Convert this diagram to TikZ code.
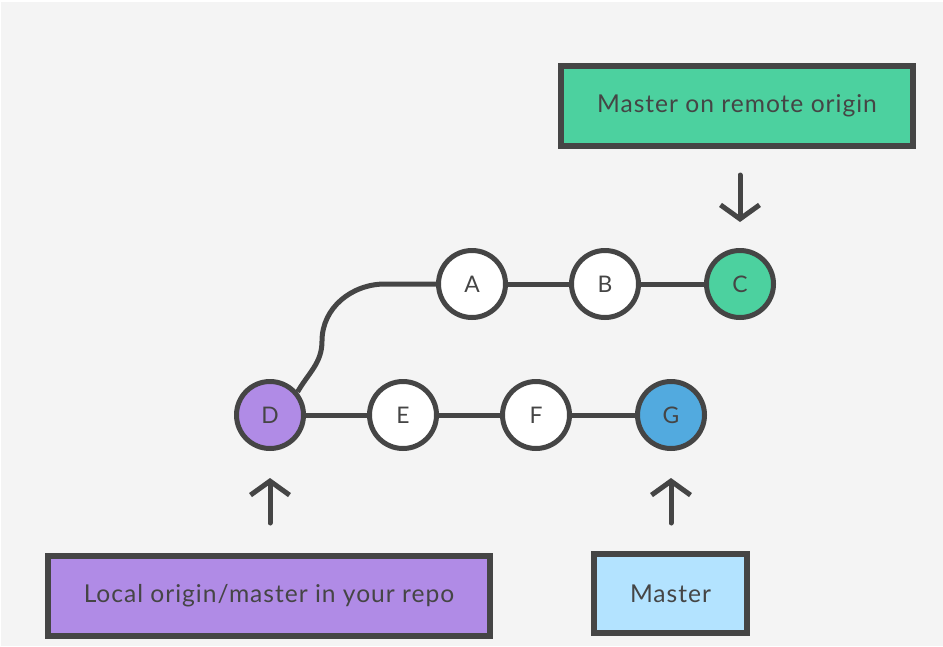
\documentclass[tikz,border=0pt]{standalone}
\usepackage{fontspec}
\setmainfont{Lato}
\newfontfamily\spacedfont[LetterSpace=4]{Lato}
\usepackage{xcolor}
\usetikzlibrary{arrows.meta}
\usetikzlibrary{calc}
\definecolor{ink}{HTML}{454545}
\definecolor{paper}{HTML}{F4F4F4}
\definecolor{remotegreen}{HTML}{4CD19F}
\definecolor{localpurple}{HTML}{B08BE6}
\definecolor{masterblue}{HTML}{B3E3FF}
\definecolor{headblue}{HTML}{52AADF}

\begin{document}
\begin{tikzpicture}[
    commit/.style={circle,draw=ink,line width=0.1cm,fill=white,minimum size=1.34cm,
      inner sep=0pt,text=ink,font=\spacedfont\fontsize{13}{15}\selectfont},
    refbox/.style={rectangle,draw=ink,line width=0.12cm,minimum height=1.6cm,
      inner sep=0pt,text=ink,font=\spacedfont\fontsize{14}{16}\selectfont},
    branch/.style={draw=ink,line width=0.1cm},
    pointer/.style={draw=ink,line width=0.1cm,line cap=round,line join=round,
      -{Straight Barb[length=0.28cm,width=0.78cm]}}]
      \useasboundingbox (0,0) rectangle (18.86,12.92);
      \fill[white] (0,0) rectangle (18.86,12.92);
      \fill[paper] (0.03,0) rectangle (18.86,12.88);
      % commits
      \node (A) at (9.44,7.24) [commit] {A};
      \node (B) at (12.10,7.24) [commit] {B};
      \node (C) at (14.80,7.24) [commit,fill=remotegreen] {C};
      \node (D) at (5.40,4.62) [commit,fill=localpurple] {D};
      \node (E) at (8.06,4.62) [commit] {E};
      \node (F) at (10.72,4.62) [commit] {F};
      \node (G) at (13.42,4.62) [commit,fill=headblue] {G};
      \draw[branch] (A) -- (B) -- (C);
      \draw[branch] (D) -- (E) -- (F) -- (G);
      \coordinate (bend) at (6.44,6.1);
      \draw[branch] (D.40) to[out=60,in=-90] (bend) to[out=90,in=180] (7.7,7.24) -- (A);
      % labels
      \node (remote) at (14.74,10.80) [refbox,fill=remotegreen,minimum width=7.04cm] {Master on remote origin};
      \node (local) at (5.38,1.00) [refbox,fill=localpurple,minimum width=8.84cm] {Local origin/master in your repo};
      \node (master) at (13.41,1.05) [refbox,fill=masterblue,minimum width=3.06cm,minimum height=1.58cm] {Master};
      \draw[pointer,shorten <=0.52cm,shorten >=0.52cm] (remote.south -| C) -- (C);
      \draw[pointer,shorten <=0.6cm,shorten >=0.54cm] (local.north -| D) -- (D);
      \draw[pointer,shorten <=0.56cm,shorten >=0.54cm] (master.north -| G) -- (G);
    \end{tikzpicture}
\end{document}
